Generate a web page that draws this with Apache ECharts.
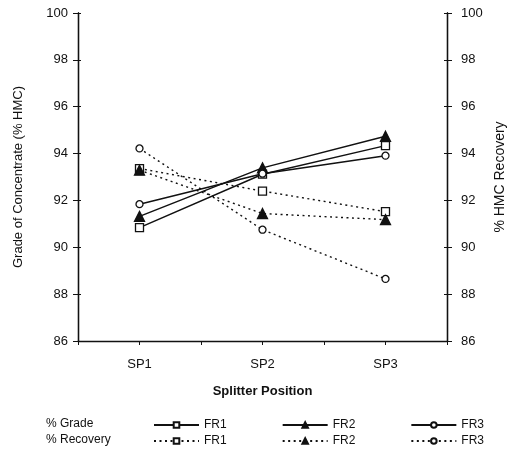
<!DOCTYPE html>
<html><head><meta charset="utf-8">
<script src="https://cdn.jsdelivr.net/npm/echarts@6/dist/echarts.min.js"></script>
<style>html,body{margin:0;padding:0;background:#fff}#c{width:508px;height:451px}</style>
</head><body><div id="c"></div>
<script>
const categories = ['SP1', 'SP2', 'SP3'];
const gradeFR1 = [90.84, 93.12, 94.34];
const gradeFR2 = [91.32, 93.39, 94.74];
const gradeFR3 = [91.84, 93.14, 93.91];
const recoveryFR1 = [93.36, 92.40, 91.52];
const recoveryFR2 = [93.29, 91.44, 91.18];
const recoveryFR3 = [94.22, 90.75, 88.65];
const seriesNames = ['FR1', 'FR2', 'FR3'];
const rowLabels = ['% Grade', '% Recovery'];
const yMin = 86, yMax = 100, yStep = 2;

const FONT = "'Liberation Sans', Arial, sans-serif";
const BLACK = '#111';
const chart = echarts.init(document.getElementById('c'), null, {renderer: 'canvas'});

const symbols = [
  {symbol: 'rect', size: 8, fill: '#fff'},
  {symbol: 'triangle', size: 10, fill: BLACK},
  {symbol: 'circle', size: 7, fill: '#fff'}
];

function mkSeries(name, data, idx, yAxisIndex, dashed) {
  const s = symbols[idx];
  return {
    name: name, type: 'line', data: data, xAxisIndex: 0, yAxisIndex: yAxisIndex,
    symbol: s.symbol, symbolSize: s.size, showSymbol: true,
    itemStyle: {color: s.fill, borderColor: BLACK, borderWidth: 1.3},
    lineStyle: {color: BLACK, width: dashed ? 1.4 : 1.5, type: dashed ? [2, 3.5] : 'solid'},
    emphasis: {disabled: true}, animation: false
  };
}

const gradeData = [gradeFR1, gradeFR2, gradeFR3];
const recData = [recoveryFR1, recoveryFR2, recoveryFR3];
const series = [];
gradeData.forEach((d, i) => series.push(mkSeries('Grade ' + seriesNames[i], d, i, 0, false)));
recData.forEach((d, i) => series.push(mkSeries('Recovery ' + seriesNames[i], d, i, 1, true)));

const axisLine = {show: true, lineStyle: {color: BLACK, width: 1.3}};
function yAx(pos, opts) {
  return Object.assign({
    type: 'value', position: pos, min: yMin, max: yMax, interval: yStep,
    axisLine: axisLine, splitLine: {show: false},
    axisTick: {show: true, length: 5, lineStyle: {color: BLACK, width: 1}},
    axisLabel: {show: true, color: BLACK, fontFamily: FONT, fontSize: 13}
  }, opts);
}

const legendBase = {
  left: 148, itemWidth: 45, itemHeight: 7, itemGap: 55, orient: 'horizontal',
  textStyle: {color: BLACK, fontFamily: FONT, fontSize: 12},
  formatter: n => n.split(' ')[1], selectedMode: false
};

chart.setOption({
  backgroundColor: '#fff',
  animation: false,
  grid: {left: 78, right: 61, top: 13, bottom: 110, containLabel: false, outerBoundsMode: 'none'},
  xAxis: [
    {type: 'category', data: categories, position: 'bottom', boundaryGap: true,
     axisLine: axisLine,
     axisTick: {show: true, length: 4, lineStyle: {color: BLACK}},
     axisLabel: {color: BLACK, fontFamily: FONT, fontSize: 13, margin: 17},
     name: 'Splitter Position', nameLocation: 'middle', nameGap: 44,
     nameTextStyle: {color: BLACK, fontFamily: FONT, fontSize: 13, fontWeight: 'bold'}},
    {type: 'category', data: categories, position: 'bottom', boundaryGap: true,
     axisLine: {show: false}, axisLabel: {show: false},
     axisTick: {show: true, alignWithLabel: true, length: 4, lineStyle: {color: BLACK}}}
  ],
  yAxis: [
    yAx('left', {name: 'Grade of Concentrate (% HMC)', nameLocation: 'middle', nameGap: 53,
      nameTextStyle: {color: BLACK, fontFamily: FONT, fontSize: 13},
      axisLabel: {color: BLACK, fontFamily: FONT, fontSize: 13, margin: 10}}),
    yAx('right', {name: '% HMC Recovery', nameLocation: 'middle', nameGap: 41,
      nameTextStyle: {color: BLACK, fontFamily: FONT, fontSize: 14},
      axisLabel: {color: BLACK, fontFamily: FONT, fontSize: 13, margin: 14}}),
    yAx('left', {axisLabel: {show: false}, axisTick: {show: true, inside: true, length: 3, lineStyle: {color: BLACK}}}),
    yAx('right', {axisLabel: {show: false}, axisTick: {show: true, inside: true, length: 3, lineStyle: {color: BLACK}}})
  ],
  legend: [
    Object.assign({}, legendBase, {top: 414, data: series.slice(0, 3).map(s => s.name)}),
    Object.assign({}, legendBase, {top: 430, data: series.slice(3).map(s => s.name)})
  ],
  graphic: [
    {type: 'text', left: 46, top: 418, style: {text: rowLabels[0], fill: BLACK, font: '12px ' + FONT}},
    {type: 'text', left: 46, top: 434, style: {text: rowLabels[1], fill: BLACK, font: '12px ' + FONT}}
  ],
  series: series
});
</script></body></html>
